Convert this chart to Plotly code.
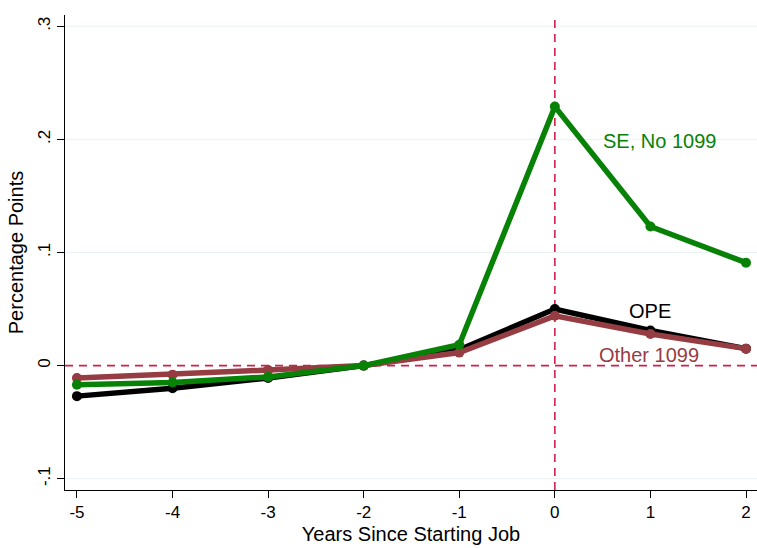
import plotly.graph_objects as go

years = [-5, -4, -3, -2, -1, 0, 1, 2]
ope = [-0.027, -0.020, -0.011, 0.0, 0.014, 0.050, 0.031, 0.015]
other_1099 = [-0.011, -0.008, -0.004, 0.0, 0.0115, 0.044, 0.028, 0.015]
se_no_1099 = [-0.017, -0.015, -0.010, 0.0, 0.0185, 0.229, 0.123, 0.091]

y_tickvals = [-0.1, 0, 0.1, 0.2, 0.3]
y_ticktext = ["-.1", "0", ".1", ".2", ".3"]
x_tickvals = [-5, -4, -3, -2, -1, 0, 1, 2]
x_ticktext = ["-5", "-4", "-3", "-2", "-1", "0", "1", "2"]

BLACK = "#000000"
RED = "#963c43"
GREEN = "#078207"
DASH = "#d11f4d"
GRID = "#eaf2f3"
FAMILY = "Liberation Sans, Arial, sans-serif"

fig = go.Figure()
for name, ys, col in [("OPE", ope, BLACK), ("Other 1099", other_1099, RED), ("SE, No 1099", se_no_1099, GREEN)]:
    fig.add_trace(go.Scatter(x=years, y=ys, mode="lines+markers", name=name,
                             line=dict(color=col, width=5.5),
                             marker=dict(color=col, size=10), cliponaxis=False))

# light grid lines (except at 0, where the dashed reference line sits)
for v in y_tickvals:
    if v != 0:
        fig.add_shape(type="line", xref="paper", yref="y", x0=0, x1=1, y0=v, y1=v,
                      line=dict(color=GRID, width=1), layer="below")

fig.add_shape(type="line", xref="x", yref="paper", x0=0, x1=0, y0=0, y1=1,
              line=dict(color=DASH, width=1.6, dash="8px,6px"), layer="below")
fig.add_shape(type="line", xref="paper", yref="y", x0=0, x1=1, y0=0, y1=0,
              line=dict(color=DASH, width=1.6, dash="8px,6px"), layer="below")

fig.add_annotation(x=1.1, y=0.199, text="SE, No 1099", showarrow=False,
                   font=dict(family=FAMILY, color=GREEN, size=20))
fig.add_annotation(x=1.0, y=0.0485, text="OPE", showarrow=False,
                   font=dict(family=FAMILY, color=BLACK, size=20))
fig.add_annotation(x=0.99, y=0.0097, text="Other 1099", showarrow=False,
                   font=dict(family=FAMILY, color=RED, size=20))

fig.update_layout(
    width=757, height=548,
    margin=dict(l=65, r=0, t=15, b=58),
    paper_bgcolor="white", plot_bgcolor="white",
    showlegend=False,
    font=dict(family=FAMILY, size=17, color="black"),
    xaxis=dict(range=[-5.125, 2.115], tickvals=x_tickvals, ticktext=x_ticktext,
               showgrid=False, zeroline=False,
               showline=True, linecolor="black", linewidth=1, ticks="outside", ticklen=7,
               tickcolor="black", title=dict(text="Years Since Starting Job", standoff=5)),
    yaxis=dict(range=[-0.11, 0.31], tickvals=y_tickvals, ticktext=y_ticktext, tickangle=-90,
               showgrid=False, zeroline=False,
               showline=True, linecolor="black", linewidth=1, ticks="outside", ticklen=7,
               tickcolor="black", title=dict(text="Percentage Points", standoff=6)),
)

fig.write_html("out.html", config={"displayModeBar": False},
               post_script="document.body.style.margin='0';")
